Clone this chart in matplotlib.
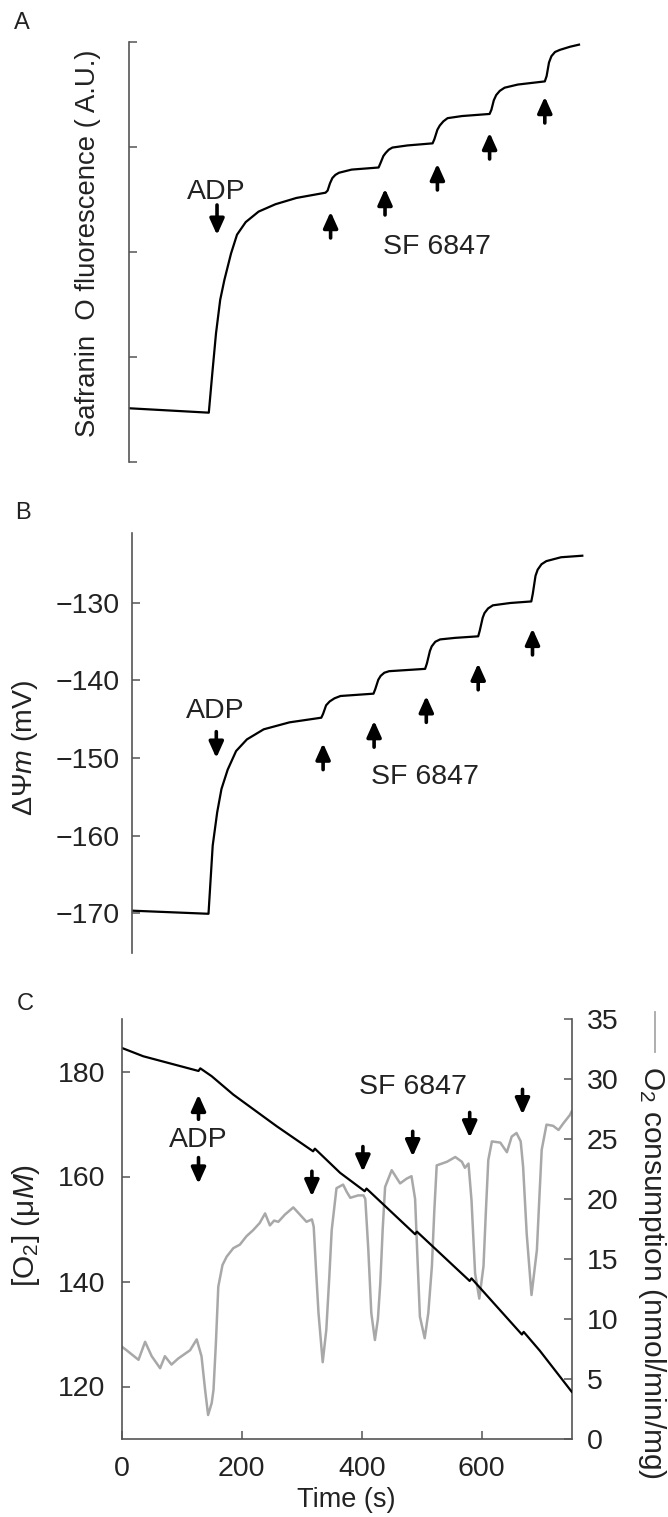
import matplotlib
matplotlib.use("Agg")
import matplotlib.pyplot as plt
from matplotlib.lines import Line2D

plt.rcParams['font.family'] = ['Liberation Sans', 'DejaVu Sans']
plt.rcParams['mathtext.fontset'] = 'custom'
plt.rcParams['mathtext.rm'] = 'Liberation Sans'
plt.rcParams['mathtext.it'] = 'Liberation Sans:italic'
plt.rcParams['mathtext.bf'] = 'Liberation Sans:bold'

# ---------------- data ----------------
# Panel A: safranin O fluorescence (arbitrary units)
time_a = [0, 133, 139, 145, 152, 159, 170, 180, 194.5, 216, 244, 279, 327.5,
          331, 335, 339, 344, 350, 371, 416, 419, 424, 428, 433, 439, 464,
          506, 509, 514, 518, 524, 531, 555, 601, 604, 608, 612, 618, 626,
          648, 693, 696, 700, 704, 710, 718, 735, 750]
fluor_a = [0.507, 0.465, 0.85, 1.22, 1.54, 1.73, 1.98, 2.16, 2.28, 2.38, 2.45,
           2.51, 2.56, 2.58, 2.65, 2.70, 2.73, 2.75, 2.78, 2.80, 2.84, 2.91,
           2.94, 2.97, 2.99, 3.01, 3.03, 3.07, 3.16, 3.20, 3.24, 3.27, 3.29,
           3.31, 3.35, 3.44, 3.49, 3.53, 3.56, 3.59, 3.62, 3.67, 3.80, 3.86,
           3.90, 3.92, 3.95, 3.97]
adp_time_a = 146.7
sf_times_a = [336, 426.7, 514, 601, 693]

# Panel B: membrane potential (mV)
time_b = [0, 127, 134, 141.5, 148.6, 159, 173, 191, 219, 262, 315, 318, 323,
          329, 337, 347, 402, 405, 410, 414, 420, 428, 488, 491, 496, 499,
          505, 513, 538, 576.5, 579, 584, 587, 593, 601, 630, 665, 667.5,
          672, 675.6, 682, 690, 714.5, 750]
dpsi_b = [-169.7, -170.1, -161.3, -157.0, -154.0, -151.5, -149.1, -147.6,
          -146.3, -145.4, -144.8, -144.3, -143.2, -142.7, -142.3, -142.0,
          -141.7, -141.1, -139.9, -139.4, -139.0, -138.8, -138.5, -137.8,
          -136.2, -135.6, -135.0, -134.7, -134.5, -134.3, -133.6, -131.9,
          -131.3, -130.7, -130.3, -130.0, -129.8, -128.8, -126.5, -125.7,
          -125.0, -124.6, -124.1, -123.9]
adp_time_b = 140
sf_times_b = [318, 403, 490, 576.5, 667]

# Panel C: oxygen concentration (uM) and O2 consumption rate
time_o2 = [0, 36, 128, 131, 150, 186, 258, 319, 322, 364, 405, 408, 489, 492,
           580, 583, 667, 670, 697, 750]
o2_conc = [184.5, 182.9, 180.1, 180.6, 179.1, 175.6, 169.6, 164.8, 165.3,
           160.7, 157.2, 157.7, 149.0, 149.5, 140.1, 140.6, 129.9, 130.4,
           126.8, 119.0]

time_rate = [0, 8, 28, 39, 50, 64, 72, 83, 94, 114, 125, 133, 139, 144, 150,
             153, 157, 161, 168, 175, 186, 197, 208, 219, 230, 239, 247, 254,
             261, 272, 286, 297, 308, 317, 320, 324, 328, 335, 341, 346, 350,
             358, 369, 375, 381, 394, 403, 406, 411, 416, 422, 427, 431, 435,
             439, 450, 464, 475, 483, 489, 493, 497, 505, 511, 517, 521, 525,
             542, 556, 567, 572, 578, 583, 589, 596, 603, 607, 611, 617, 631,
             642, 650, 658, 665, 669, 675, 683, 692, 696, 700, 708, 719, 728,
             736, 747, 750]
o2_rate = [7.7, 7.4, 6.6, 8.1, 6.9, 5.9, 6.9, 6.2, 6.7, 7.4, 8.3, 6.9, 4.1,
           2.0, 3.0, 4.1, 8.0, 12.7, 14.5, 15.2, 15.9, 16.2, 16.9, 17.4, 18.0,
           18.8, 17.8, 18.2, 18.1, 18.7, 19.3, 18.7, 18.1, 18.3, 17.7, 14.0,
           10.5, 6.4, 9.1, 13.5, 17.4, 20.9, 21.2, 20.6, 20.1, 20.3, 20.3,
           20.0, 15.8, 10.5, 8.25, 10.0, 13.0, 17.5, 21.0, 22.4, 21.3, 21.7,
           21.9, 20.0, 15.0, 10.2, 8.4, 10.5, 14.4, 19.0, 22.8, 23.1, 23.5,
           23.1, 22.6, 22.95, 19.9, 13.8, 11.7, 14.4, 19.0, 23.25, 24.8, 24.7,
           23.9, 25.2, 25.5, 24.8, 22.7, 17.1, 12.0, 15.75, 20.0, 24.1, 26.2,
           26.1, 25.75, 26.3, 27.0, 27.3]
adp_time_c = 128
sf_times_c = [317, 402, 485, 580, 668]

time_ticks = [0, 200, 400, 600]
o2_ticks = [120, 140, 160, 180]
rate_ticks = [0, 5, 10, 15, 20, 25, 30, 35]
dpsi_ticks = [-170, -160, -150, -140, -130]
fluor_ticks = [0, 1, 2, 3, 4]

# ---------------- figure ----------------
W, H = 668, 1517
fig = plt.figure(figsize=(W / 100, H / 100), dpi=100)


def box(left, top, right, bottom):
    return [left / W, 1 - bottom / H, (right - left) / W, (bottom - top) / H]


SPINE = '#555555'
TXT = '#222222'
FS = 20.5


def style_axis(ax, sides):
    for s in ['left', 'right', 'top', 'bottom']:
        ax.spines[s].set_visible(s in sides)
        ax.spines[s].set_color(SPINE)
        ax.spines[s].set_linewidth(1.2)
    ax.tick_params(direction='in', length=6, width=1.1, color=SPINE,
                   labelsize=FS, labelcolor=TXT)


def arrow(ax, t, v_tail, v_head):
    ax.annotate('', xy=(t, v_head), xytext=(t, v_tail),
                arrowprops=dict(arrowstyle='-|>,head_length=0.8,head_width=0.36',
                                mutation_scale=12, lw=2.6, color='black',
                                shrinkA=0, shrinkB=0))


# Panel A
ax_a = fig.add_axes(box(129, 41.5, 129 + 760 * 0.6, 461.5))
ax_a.plot(time_a, fluor_a, color='black', lw=1.6)
ax_a.set_xlim(0, 760)
ax_a.set_ylim(0, 4)
style_axis(ax_a, ['left'])
ax_a.set_xticks([])
ax_a.set_yticks(fluor_ticks)
ax_a.set_yticklabels([])
ax_a.text(145, 2.567, 'ADP', fontsize=FS, ha='center', va='center', color=TXT)
arrow(ax_a, adp_time_a, 2.443, 2.157)
sf_a_tail = [2.129, 2.348, 2.586, 2.881, 3.224]
for t, v in zip(sf_times_a, sf_a_tail):
    arrow(ax_a, t, v, v + 0.25)
ax_a.text(513, 2.046, 'SF 6847', fontsize=FS, ha='center', va='center',
          color=TXT)
fig.text(88 / W, 1 - 243.5 / H, 'Safranin  O fluorescence ( A.U.)',
         rotation=90, fontsize=19.8, ha='center', va='center', color=TXT)
fig.text(22 / W, 1 - 23 / H, 'A', fontsize=17, ha='center', va='center',
         color=TXT)

# Panel B
ax_b = fig.add_axes(box(132.3, 533, 132.3 + 760 * 0.6, 953))
ax_b.plot(time_b, dpsi_b, color='black', lw=1.6)
ax_b.set_xlim(0, 760)
ax_b.set_ylim(-175.16, -120.97)
style_axis(ax_b, ['left'])
ax_b.set_xticks([])
ax_b.set_yticks(dpsi_ticks)
ax_b.tick_params(axis='y', pad=9)
ax_b.text(137.8, -144.0, 'ADP', fontsize=FS, ha='center', va='center',
          color=TXT)
arrow(ax_b, adp_time_b, -146.6, -150.0)
sf_b_tail = [-151.5, -148.6, -145.4, -141.2, -136.7]
for t, v in zip(sf_times_b, sf_b_tail):
    arrow(ax_b, t, v, v + 3.4)
ax_b.text(488, -152.5, 'SF 6847', fontsize=FS, ha='center', va='center',
          color=TXT)
fig.text(25 / W, 1 - 748 / H, r'$\Delta\mathit{\Psi m}$ (mV)', rotation=90,
         fontsize=FS, ha='center', va='center', color=TXT)
fig.text(23 / W, 1 - 513 / H, 'B', fontsize=17, ha='center', va='center',
         color=TXT)

# Panel C
ax_c = fig.add_axes(box(121.7, 1019, 571.7, 1439))
ax_r = ax_c.twinx()
ax_r.plot(time_rate, o2_rate, color='#a8a8a8', lw=1.8)
ax_c.plot(time_o2, o2_conc, color='black', lw=1.6)
ax_c.set_zorder(ax_r.get_zorder() + 1)
ax_c.patch.set_visible(False)
ax_c.set_xlim(0, 750)
ax_c.set_ylim(110, 190)
ax_r.set_ylim(0, 35)
style_axis(ax_c, ['left', 'bottom'])
style_axis(ax_r, ['right'])
ax_c.set_xticks(time_ticks)
ax_c.set_yticks(o2_ticks)
ax_r.set_yticks(rate_ticks)
ax_c.tick_params(axis='y', pad=12)
ax_c.tick_params(axis='x', pad=12)
ax_r.tick_params(axis='y', pad=11)
ax_c.set_xlabel('Time (s)', fontsize=19.5, color=TXT, labelpad=4)

arrow(ax_c, adp_time_c, 170.9, 175.6)
ax_c.text(adp_time_c, 167.0, 'ADP', fontsize=FS, ha='center', va='center',
          color=TXT)
arrow(ax_c, adp_time_c, 163.6, 158.6)
sf_c_tail = [161.0, 165.7, 168.6, 172.2, 176.6]
for t, v in zip(sf_times_c, sf_c_tail):
    arrow(ax_c, t, v, v - 4.8)
ax_c.text(485.5, 177.1, 'SF 6847', fontsize=FS, ha='center', va='center',
          color=TXT)

fig.text(26 / W, 1 - 1225 / H, r'[O$_2$] ($\mathrm{\mu}\mathit{M}$)',
         rotation=90, fontsize=21.5, ha='center', va='center', color=TXT)
fig.text(651.7 / W, 1 - 1273 / H, r'O$_2$ consumption (nmol/min/mg)',
         rotation=270, fontsize=21.5, ha='center', va='center', color=TXT)
fig.add_artist(Line2D([655 / W, 655 / W], [1 - 1012 / H, 1 - 1052 / H],
                      transform=fig.transFigure, color='#a8a8a8', lw=1.3))
fig.text(25.7 / W, 1 - 1004 / H, 'C', fontsize=17, ha='center', va='center',
         color=TXT)

fig.savefig('out.png', dpi=100, facecolor='white')
